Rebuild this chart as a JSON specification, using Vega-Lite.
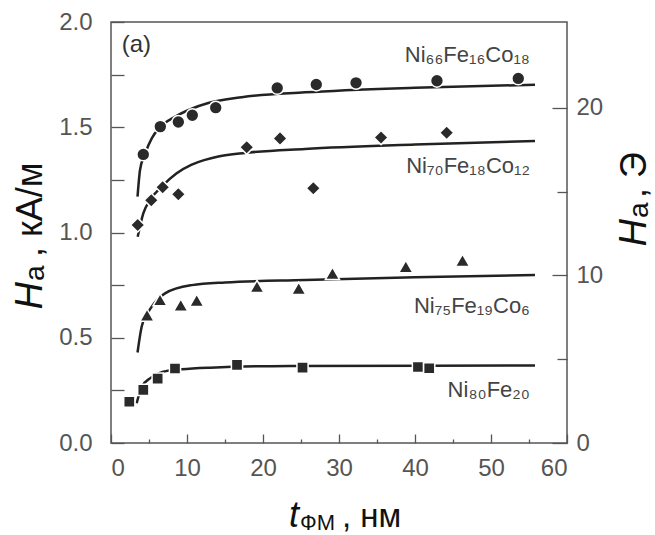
{
  "$schema": "https://vega.github.io/schema/vega-lite/v6.json",
  "autosize": {"type": "none"},
  "padding": {"left": 111, "top": 22, "right": 88, "bottom": 92},
  "width": 456,
  "height": 421,
  "background": "white",
  "config": {
    "view": {"stroke": "#555555", "strokeWidth": 1.5},
    "font": "Liberation Sans",
    "axis": {"grid": false, "domain": false, "tickColor": "#555555", "tickWidth": 1.3, "labelColor": "#555555", "labelFont": "Liberation Sans", "labelFontSize": 24, "title": null}
  },
  "datasets": {
    "points": [
      {"alloy": "A66", "t": 4.25, "H": 1.371},
      {"alloy": "A66", "t": 6.49, "H": 1.503},
      {"alloy": "A66", "t": 8.86, "H": 1.525},
      {"alloy": "A66", "t": 10.70, "H": 1.557},
      {"alloy": "A66", "t": 13.78, "H": 1.593},
      {"alloy": "A66", "t": 21.87, "H": 1.687},
      {"alloy": "A66", "t": 27.01, "H": 1.703},
      {"alloy": "A66", "t": 32.24, "H": 1.711},
      {"alloy": "A66", "t": 42.89, "H": 1.721},
      {"alloy": "A66", "t": 53.59, "H": 1.732},
      {"alloy": "A70", "t": 3.51, "H": 1.036},
      {"alloy": "A70", "t": 5.30, "H": 1.153},
      {"alloy": "A70", "t": 6.80, "H": 1.215},
      {"alloy": "A70", "t": 8.86, "H": 1.182},
      {"alloy": "A70", "t": 17.86, "H": 1.405},
      {"alloy": "A70", "t": 22.24, "H": 1.447},
      {"alloy": "A70", "t": 26.62, "H": 1.210},
      {"alloy": "A70", "t": 35.53, "H": 1.451},
      {"alloy": "A70", "t": 44.17, "H": 1.474},
      {"alloy": "A75", "t": 4.74, "H": 0.608},
      {"alloy": "A75", "t": 6.45, "H": 0.681},
      {"alloy": "A75", "t": 9.18, "H": 0.655},
      {"alloy": "A75", "t": 11.28, "H": 0.678},
      {"alloy": "A75", "t": 19.21, "H": 0.744},
      {"alloy": "A75", "t": 24.70, "H": 0.735},
      {"alloy": "A75", "t": 29.14, "H": 0.806},
      {"alloy": "A75", "t": 38.79, "H": 0.838},
      {"alloy": "A75", "t": 46.25, "H": 0.868},
      {"alloy": "A80", "t": 2.41, "H": 0.196},
      {"alloy": "A80", "t": 4.25, "H": 0.252},
      {"alloy": "A80", "t": 6.14, "H": 0.306},
      {"alloy": "A80", "t": 8.42, "H": 0.354},
      {"alloy": "A80", "t": 16.58, "H": 0.371},
      {"alloy": "A80", "t": 25.20, "H": 0.358},
      {"alloy": "A80", "t": 40.39, "H": 0.361},
      {"alloy": "A80", "t": 41.87, "H": 0.355}
    ],
    "curves": [
      {"alloy": "A66", "t": 3.49, "H": 1.170},
      {"alloy": "A66", "t": 3.82, "H": 1.297},
      {"alloy": "A66", "t": 4.47, "H": 1.373},
      {"alloy": "A66", "t": 5.36, "H": 1.447},
      {"alloy": "A66", "t": 6.45, "H": 1.500},
      {"alloy": "A66", "t": 8.42, "H": 1.550},
      {"alloy": "A66", "t": 10.62, "H": 1.588},
      {"alloy": "A66", "t": 12.80, "H": 1.615},
      {"alloy": "A66", "t": 17.20, "H": 1.643},
      {"alloy": "A66", "t": 25.53, "H": 1.666},
      {"alloy": "A66", "t": 40.00, "H": 1.688},
      {"alloy": "A66", "t": 55.79, "H": 1.702},
      {"alloy": "A70", "t": 3.51, "H": 0.980},
      {"alloy": "A70", "t": 4.25, "H": 1.091},
      {"alloy": "A70", "t": 5.13, "H": 1.154},
      {"alloy": "A70", "t": 6.67, "H": 1.218},
      {"alloy": "A70", "t": 8.60, "H": 1.280},
      {"alloy": "A70", "t": 10.62, "H": 1.322},
      {"alloy": "A70", "t": 12.37, "H": 1.345},
      {"alloy": "A70", "t": 14.12, "H": 1.361},
      {"alloy": "A70", "t": 17.63, "H": 1.378},
      {"alloy": "A70", "t": 25.53, "H": 1.397},
      {"alloy": "A70", "t": 40.00, "H": 1.418},
      {"alloy": "A70", "t": 55.79, "H": 1.435},
      {"alloy": "A75", "t": 3.49, "H": 0.430},
      {"alloy": "A75", "t": 4.04, "H": 0.553},
      {"alloy": "A75", "t": 4.74, "H": 0.612},
      {"alloy": "A75", "t": 5.36, "H": 0.648},
      {"alloy": "A75", "t": 7.11, "H": 0.711},
      {"alloy": "A75", "t": 10.62, "H": 0.750},
      {"alloy": "A75", "t": 15.00, "H": 0.763},
      {"alloy": "A75", "t": 25.53, "H": 0.774},
      {"alloy": "A75", "t": 40.00, "H": 0.787},
      {"alloy": "A75", "t": 55.79, "H": 0.798},
      {"alloy": "A80", "t": 3.38, "H": 0.189},
      {"alloy": "A80", "t": 4.04, "H": 0.267},
      {"alloy": "A80", "t": 5.13, "H": 0.307},
      {"alloy": "A80", "t": 6.88, "H": 0.339},
      {"alloy": "A80", "t": 9.30, "H": 0.350},
      {"alloy": "A80", "t": 13.03, "H": 0.358},
      {"alloy": "A80", "t": 23.55, "H": 0.366},
      {"alloy": "A80", "t": 55.79, "H": 0.368}
    ],
    "alloyLabels": [
      {"t": 55.13, "H": 1.808, "text": "Ni₆₆Fe₁₆Co₁₈"},
      {"t": 55.13, "H": 1.283, "text": "Ni₇₀Fe₁₈Co₁₂"},
      {"t": 55.13, "H": 0.618, "text": "Ni₇₅Fe₁₉Co₆"},
      {"t": 55.13, "H": 0.219, "text": "Ni₈₀Fe₂₀"}
    ]
  },
  "resolve": {"axis": {"x": "independent", "y": "independent"}},
  "layer": [
    {
      "data": {"name": "curves"},
      "mark": {"type": "line", "color": "#222222", "strokeWidth": 2.5, "interpolate": "monotone", "clip": true},
      "encoding": {
        "x": {"field": "t", "type": "quantitative", "scale": {"domain": [0, 60], "nice": false, "zero": false},
          "axis": {"orient": "bottom", "values": [0, 10, 20, 30, 40, 50, 60], "tickSize": -9, "labelPadding": 22, "format": "d"}},
        "y": {"field": "H", "type": "quantitative", "scale": {"domain": [0, 2], "nice": false, "zero": false},
          "axis": {"orient": "left", "values": [0, 0.25, 0.5, 0.75, 1, 1.25, 1.5, 1.75, 2], "tickSize": -13, "labelPadding": 32,
            "labelExpr": "(datum.value * 4) % 2 == 0 ? format(datum.value, '.1f') : ''"}},
        "detail": {"field": "alloy"}
      }
    },
    {
      "data": {"name": "curves"},
      "mark": {"type": "line", "strokeOpacity": 0},
      "encoding": {
        "x": {"field": "t", "type": "quantitative", "axis": {"orient": "bottom", "values": [5, 15, 25, 35, 45, 55], "tickSize": -4, "labels": false}},
        "y": {"field": "H", "type": "quantitative", "axis": {"orient": "right", "values": [0, 0.795775, 1.591549], "tickSize": -15, "labelPadding": 24,
          "labelExpr": "format(round(datum.value * 12.566371), 'd')"}},
        "detail": {"field": "alloy"}
      }
    },
    {
      "data": {"name": "curves"},
      "mark": {"type": "line", "strokeOpacity": 0},
      "encoding": {
        "x": {"field": "t", "type": "quantitative", "axis": null},
        "y": {"field": "H", "type": "quantitative", "axis": {"orient": "right", "values": [0.397887, 1.193662], "tickSize": -10, "labels": false}},
        "detail": {"field": "alloy"}
      }
    },
    {
      "data": {"name": "points"},
      "mark": {"type": "point", "filled": true, "fill": "#2a2a2a", "fillOpacity": 1, "stroke": "white", "strokeWidth": 1.5, "strokeOpacity": 1},
      "encoding": {
        "x": {"field": "t", "type": "quantitative", "axis": null},
        "y": {"field": "H", "type": "quantitative", "axis": null},
        "shape": {"field": "alloy", "type": "nominal", "legend": null,
          "scale": {"domain": ["A66", "A70", "A75", "A80"], "range": ["circle", "diamond", "triangle-up", "square"]}},
        "size": {"field": "alloy", "type": "nominal", "legend": null,
          "scale": {"type": "ordinal", "domain": ["A66", "A70", "A75", "A80"], "range": [165, 200, 200, 125]}}
      }
    },
    {
      "data": {"name": "alloyLabels"},
      "mark": {"type": "text", "align": "right", "baseline": "alphabetic", "fontSize": 22, "color": "#444444", "font": "Liberation Sans"},
      "encoding": {
        "x": {"field": "t", "type": "quantitative", "axis": null},
        "y": {"field": "H", "type": "quantitative", "axis": null},
        "text": {"field": "text"}
      }
    },
    {
      "data": {"values": [{"t": 1.41, "H": 1.857, "text": "(a)"}]},
      "mark": {"type": "text", "align": "left", "baseline": "alphabetic", "fontSize": 24, "color": "#333333"},
      "encoding": {
        "x": {"field": "t", "type": "quantitative", "axis": null},
        "y": {"field": "H", "type": "quantitative", "axis": null},
        "text": {"field": "text"}
      }
    },
    {
      "data": {"values": [{"t": 24.74, "H": -0.399, "text": "t"}]},
      "mark": {"type": "text", "align": "right", "baseline": "alphabetic", "fontSize": 36, "fontStyle": "italic", "color": "#111111"},
      "encoding": {
        "x": {"field": "t", "type": "quantitative", "axis": null},
        "y": {"field": "H", "type": "quantitative", "axis": null},
        "text": {"field": "text"}
      }
    },
    {
      "data": {"values": [{"t": -9.08, "H": 0.765, "text": "H"}, {"t": 70.39, "H": 1.064, "text": "H"}]},
      "mark": {"type": "text", "align": "right", "baseline": "alphabetic", "fontSize": 38, "fontStyle": "italic", "angle": -90, "color": "#111111"},
      "encoding": {
        "x": {"field": "t", "type": "quantitative", "axis": null},
        "y": {"field": "H", "type": "quantitative", "axis": null},
        "text": {"field": "text"}
      }
    },
    {
      "data": {"values": [{"t": -8.82, "H": 0.770, "text": "a"}, {"t": 70.66, "H": 1.069, "text": "a"}]},
      "mark": {"type": "text", "align": "left", "baseline": "alphabetic", "fontSize": 28, "angle": -90, "color": "#111111"},
      "encoding": {
        "x": {"field": "t", "type": "quantitative", "axis": null},
        "y": {"field": "H", "type": "quantitative", "axis": null},
        "text": {"field": "text"}
      }
    },
    {
      "data": {"values": [{"t": -9.08, "H": 0.884, "text": ", кА/м"}, {"t": 70.39, "H": 1.164, "text": ", Э"}]},
      "mark": {"type": "text", "align": "left", "baseline": "alphabetic", "fontSize": 36, "angle": -90, "color": "#111111"},
      "encoding": {
        "x": {"field": "t", "type": "quantitative", "axis": null},
        "y": {"field": "H", "type": "quantitative", "axis": null},
        "text": {"field": "text"}
      }
    },
    {
      "data": {"values": [{"t": 24.87, "H": -0.412, "text": "ФМ"}]},
      "mark": {"type": "text", "align": "left", "baseline": "alphabetic", "fontSize": 22, "color": "#111111"},
      "encoding": {
        "x": {"field": "t", "type": "quantitative", "axis": null},
        "y": {"field": "H", "type": "quantitative", "axis": null},
        "text": {"field": "text"}
      }
    },
    {
      "data": {"values": [{"t": 30.39, "H": -0.399, "text": ", нм"}]},
      "mark": {"type": "text", "align": "left", "baseline": "alphabetic", "fontSize": 33, "color": "#111111"},
      "encoding": {
        "x": {"field": "t", "type": "quantitative", "axis": null},
        "y": {"field": "H", "type": "quantitative", "axis": null},
        "text": {"field": "text"}
      }
    }
  ]
}
